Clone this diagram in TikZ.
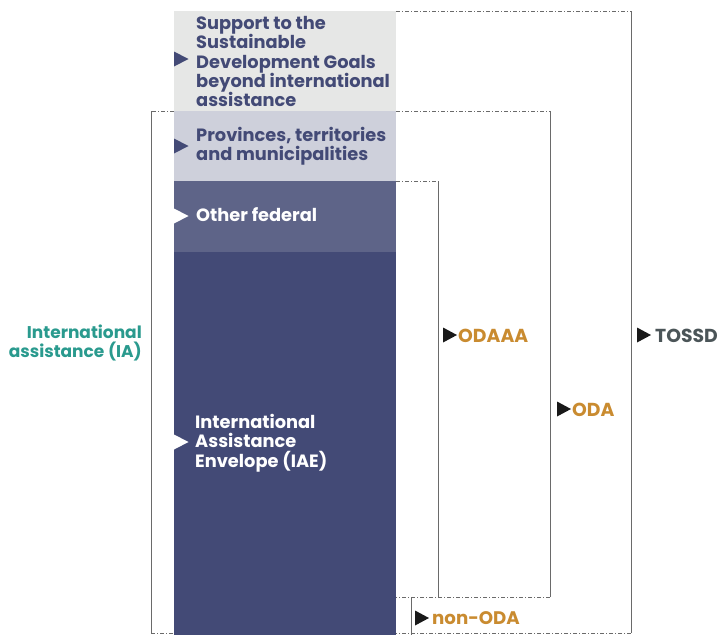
\documentclass[tikz,border=0pt]{standalone}
\usepackage{fontspec}
\setmainfont{Poppins}
\definecolor{sdgbg}{HTML}{E6E7E6}
\definecolor{provbg}{HTML}{CED0DB}
\definecolor{fedbg}{HTML}{5E6488}
\definecolor{iaebg}{HTML}{434A76}
\definecolor{navy}{HTML}{434A76}
\definecolor{teal}{HTML}{2A9A8E}
\definecolor{ochre}{HTML}{C98B30}
\definecolor{tossdgray}{HTML}{4B5558}
\definecolor{brk}{HTML}{6A6A6A}
\begin{document}
\begin{tikzpicture}[x=1pt,y=-1pt,
  coltext/.style={anchor=west,align=left,font=\fontsize{17.8}{19.3}\selectfont\bfseries,inner sep=0pt},
  sidelabel/.style={anchor=west,font=\fontsize{18.8}{19}\selectfont\bfseries,inner sep=0pt},
  vline/.style={draw=brk,line width=0.9pt},
  hdash/.style={draw=brk,line width=0.8pt,dash pattern=on 4pt off 2pt on 1pt off 2pt}]
\useasboundingbox (0,0) rectangle (720,635);
% column blocks
\fill[sdgbg] (174,11) rectangle (396,111);
\fill[provbg] (174,111) rectangle (396,181);
\fill[fedbg] (174,181) rectangle (396,252);
\fill[iaebg] (174,252) rectangle (396,635);
% markers in column
\fill[navy] (174,51.5) -- (188.5,59) -- (174,66.5) -- cycle;
\fill[navy] (174,138.5) -- (188.5,146) -- (174,153.5) -- cycle;
\fill[white] (174,208.5) -- (188.5,216) -- (174,223.5) -- cycle;
\fill[white] (174,434.5) -- (188.5,442) -- (174,449.5) -- cycle;
% column texts
\node[coltext,text=navy] (sdg) at (196,61.5) {Support to the\\Sustainable\\Development Goals\\beyond international\\assistance};
\node[coltext,text=navy] (prov) at (196,146.5) {Provinces, territories\\and municipalities};
\node[coltext,text=white] (fed) at (196,215) {Other federal};
\node[coltext,text=white] (iae) at (195,443) {International\\Assistance\\Envelope (IAE)};
% IA bracket
\coordinate (iaT) at (151,111); \coordinate (iaB) at (151,633);
\draw[hdash] (174,111) -- (iaT);
\draw[vline] (iaT) -- (iaB);
\draw[hdash] (iaB) -- (174,633);
\node[anchor=east,align=right,text=teal,font=\fontsize{17}{19}\selectfont\bfseries,inner sep=0pt] (ia) at (142,343) {International\\assistance (IA)};
% ODAAA bracket
\coordinate (oaT) at (438,181); \coordinate (oaB) at (438,597);
\draw[hdash] (396,181) -- (oaT);
\draw[vline] (oaT) -- (oaB);
% ODA bracket
\coordinate (odT) at (550,111); \coordinate (odB) at (550,597);
\draw[hdash] (396,111) -- (odT);
\draw[vline] (odT) -- (odB);
\draw[hdash] (odB) -- (396,597);
% non-ODA bracket
\coordinate (noT) at (411,597); \coordinate (noB) at (411,635);
\draw[vline] (noT) -- (noB);
% TOSSD bracket
\coordinate (toT) at (631,11); \coordinate (toB) at (631,633);
\draw[hdash] (396,11) -- (toT);
\draw[vline] (toT) -- (toB);
\draw[hdash] (toB) -- (396,633);
% side labels
\fill[black!90] (443,327.5) -- (457,335) -- (443,342.5) -- cycle;
\node[sidelabel,text=ochre] (odaaa) at (458,335.5) {ODAAA};
\fill[black!90] (557,401.5) -- (571,409) -- (557,416.5) -- cycle;
\node[sidelabel,text=ochre] (oda) at (572,409.5) {ODA};
\fill[black!90] (637,327.5) -- (651,335) -- (637,342.5) -- cycle;
\node[sidelabel,text=tossdgray] (tossd) at (655,335.5) {TOSSD};
\fill[black!90] (415,610.5) -- (429,618) -- (415,625.5) -- cycle;
\node[sidelabel,text=ochre,font=\fontsize{18.2}{19}\selectfont\bfseries] (nonoda) at (432,618) {non-ODA};
\end{tikzpicture}
\end{document}
